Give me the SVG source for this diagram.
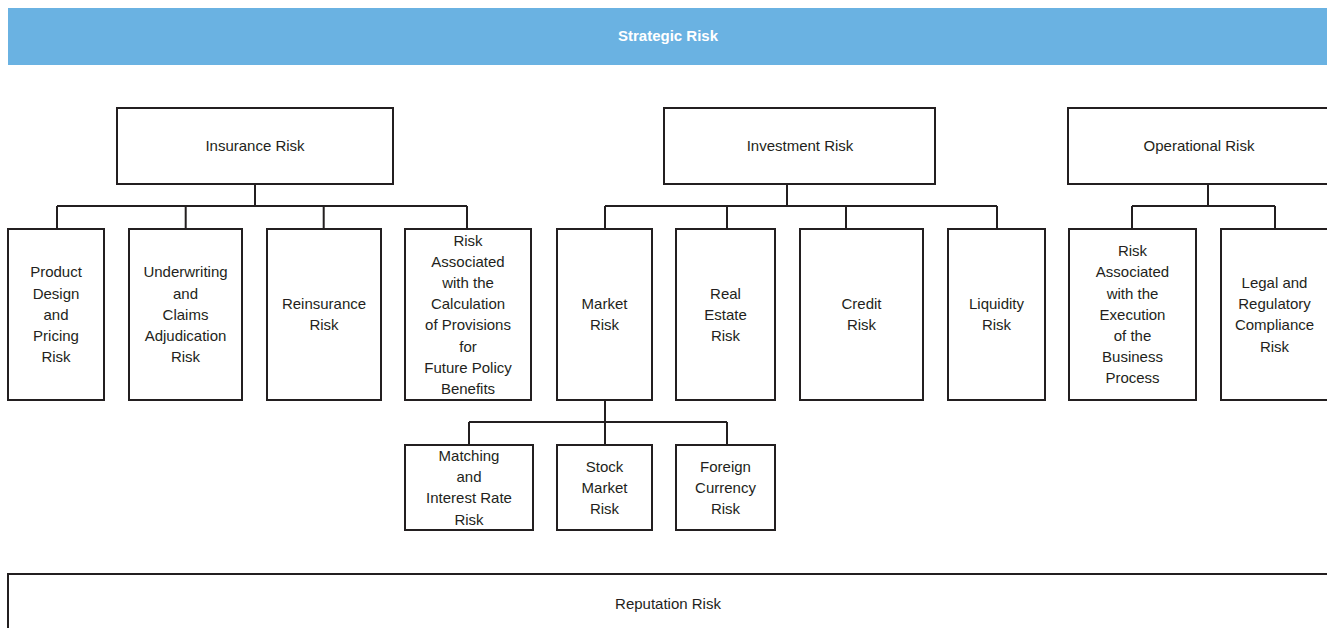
<svg xmlns="http://www.w3.org/2000/svg" width="1327" height="628" viewBox="0 0 1327 628">
  <style>
    .box { fill: #ffffff; stroke: #231f20; stroke-width: 2; }
    .lbl { font-family: "Liberation Sans", Arial, sans-serif; font-size: 15px; fill: #231f20; text-anchor: middle; }
    .title { font-family: "Liberation Sans", Arial, sans-serif; font-size: 15px; font-weight: bold; fill: #ffffff; text-anchor: middle; }
    .conn { fill: none; stroke: #231f20; stroke-width: 2; }
  </style>
  <rect width="1327" height="628" fill="#ffffff"/>

  <!-- top banner -->
  <g id="strategic-risk">
    <rect x="8" y="8" width="1319" height="57" fill="#6ab2e2"/>
    <text class="title" x="668" y="41.3">Strategic Risk</text>
  </g>

  <!-- connectors -->
  <g id="connectors">
    <path class="conn" d="M255 184V206M57 206H467M57 206V229M185.7 206V229M323.7 206V229M467 206V229"/>
    <path class="conn" d="M787 184V206M605 206H997M605 206V229M727 206V229M846 206V229M997 206V229"/>
    <path class="conn" d="M1208 184V206M1132 206H1275M1132 206V229M1275 206V229"/>
    <path class="conn" d="M605 400V422M469 422H727M469 422V445M605 422V445M727 422V445"/>
  </g>

  <!-- insurance branch -->
  <g id="insurance-risk">
    <rect class="box" x="117" y="108" width="276" height="76"/>
    <text class="lbl" x="255" y="151.3">Insurance Risk</text>
  </g>
  <g id="product-design-pricing">
    <rect class="box" x="8" y="229" width="96" height="171"/>
    <text class="lbl" y="277.4"><tspan x="56">Product</tspan><tspan x="56" dy="21.2">Design</tspan><tspan x="56" dy="21.2">and</tspan><tspan x="56" dy="21.2">Pricing</tspan><tspan x="56" dy="21.2">Risk</tspan></text>
  </g>
  <g id="underwriting-claims">
    <rect class="box" x="129" y="229" width="113" height="171"/>
    <text class="lbl" y="277.4"><tspan x="185.5">Underwriting</tspan><tspan x="185.5" dy="21.2">and</tspan><tspan x="185.5" dy="21.2">Claims</tspan><tspan x="185.5" dy="21.2">Adjudication</tspan><tspan x="185.5" dy="21.2">Risk</tspan></text>
  </g>
  <g id="reinsurance">
    <rect class="box" x="267" y="229" width="114" height="171"/>
    <text class="lbl" y="309.2"><tspan x="324">Reinsurance</tspan><tspan x="324" dy="21.2">Risk</tspan></text>
  </g>
  <g id="provisions">
    <rect class="box" x="405" y="229" width="126" height="171"/>
    <text class="lbl" y="245.6"><tspan x="468">Risk</tspan><tspan x="468" dy="21.2">Associated</tspan><tspan x="468" dy="21.2">with the</tspan><tspan x="468" dy="21.2">Calculation</tspan><tspan x="468" dy="21.2">of Provisions</tspan><tspan x="468" dy="21.2">for</tspan><tspan x="468" dy="21.2">Future Policy</tspan><tspan x="468" dy="21.2">Benefits</tspan></text>
  </g>

  <!-- investment branch -->
  <g id="investment-risk">
    <rect class="box" x="664" y="108" width="271" height="76"/>
    <text class="lbl" x="800" y="151.3">Investment Risk</text>
  </g>
  <g id="market-risk">
    <rect class="box" x="557" y="229" width="95" height="171"/>
    <text class="lbl" y="309.2"><tspan x="604.5">Market</tspan><tspan x="604.5" dy="21.2">Risk</tspan></text>
  </g>
  <g id="real-estate-risk">
    <rect class="box" x="676" y="229" width="99" height="171"/>
    <text class="lbl" y="298.6"><tspan x="725.5">Real</tspan><tspan x="725.5" dy="21.2">Estate</tspan><tspan x="725.5" dy="21.2">Risk</tspan></text>
  </g>
  <g id="credit-risk">
    <rect class="box" x="800" y="229" width="123" height="171"/>
    <text class="lbl" y="309.2"><tspan x="861.5">Credit</tspan><tspan x="861.5" dy="21.2">Risk</tspan></text>
  </g>
  <g id="liquidity-risk">
    <rect class="box" x="948" y="229" width="97" height="171"/>
    <text class="lbl" y="309.2"><tspan x="996.5">Liquidity</tspan><tspan x="996.5" dy="21.2">Risk</tspan></text>
  </g>

  <!-- market risk sub-branch -->
  <g id="matching-interest-rate">
    <rect class="box" x="405" y="445" width="128" height="85"/>
    <text class="lbl" y="461"><tspan x="469">Matching</tspan><tspan x="469" dy="21.2">and</tspan><tspan x="469" dy="21.2">Interest Rate</tspan><tspan x="469" dy="21.2">Risk</tspan></text>
  </g>
  <g id="stock-market-risk">
    <rect class="box" x="557" y="445" width="95" height="85"/>
    <text class="lbl" y="471.6"><tspan x="604.5">Stock</tspan><tspan x="604.5" dy="21.2">Market</tspan><tspan x="604.5" dy="21.2">Risk</tspan></text>
  </g>
  <g id="foreign-currency-risk">
    <rect class="box" x="676" y="445" width="99" height="85"/>
    <text class="lbl" y="471.6"><tspan x="725.5">Foreign</tspan><tspan x="725.5" dy="21.2">Currency</tspan><tspan x="725.5" dy="21.2">Risk</tspan></text>
  </g>

  <!-- operational branch -->
  <g id="operational-risk">
    <rect class="box" x="1068" y="108" width="262" height="76"/>
    <text class="lbl" x="1199" y="151.3">Operational Risk</text>
  </g>
  <g id="business-process">
    <rect class="box" x="1069" y="229" width="127" height="171"/>
    <text class="lbl" y="256.2"><tspan x="1132.5">Risk</tspan><tspan x="1132.5" dy="21.2">Associated</tspan><tspan x="1132.5" dy="21.2">with the</tspan><tspan x="1132.5" dy="21.2">Execution</tspan><tspan x="1132.5" dy="21.2">of the</tspan><tspan x="1132.5" dy="21.2">Business</tspan><tspan x="1132.5" dy="21.2">Process</tspan></text>
  </g>
  <g id="legal-regulatory">
    <rect class="box" x="1221" y="229" width="108" height="171"/>
    <text class="lbl" y="288"><tspan x="1274.5">Legal and</tspan><tspan x="1274.5" dy="21.2">Regulatory</tspan><tspan x="1274.5" dy="21.2">Compliance</tspan><tspan x="1274.5" dy="21.2">Risk</tspan></text>
  </g>

  <!-- bottom band -->
  <g id="reputation-risk">
    <rect class="box" x="8" y="574" width="1320" height="70"/>
    <text class="lbl" x="668" y="609">Reputation Risk</text>
  </g>
</svg>
